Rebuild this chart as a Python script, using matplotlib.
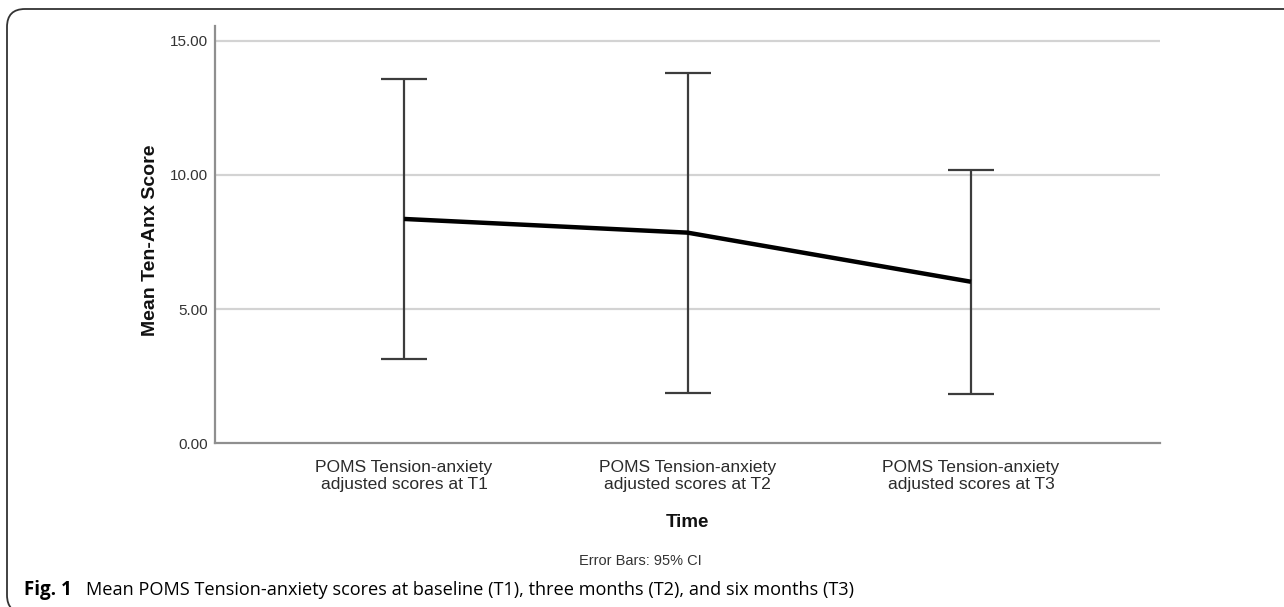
import matplotlib
matplotlib.use("Agg")
import matplotlib.pyplot as plt
from matplotlib.patches import FancyBboxPatch
from matplotlib.ticker import FormatStrFormatter
import numpy as np

# --- data ---
time_labels = ["POMS Tension-anxiety\nadjusted scores at T1",
               "POMS Tension-anxiety\nadjusted scores at T2",
               "POMS Tension-anxiety\nadjusted scores at T3"]
mean_scores = [8.36, 7.85, 6.02]
ci_upper = [13.59, 13.78, 10.17]
ci_lower = [3.13, 1.87, 1.83]
y_ticks = [0, 5, 10, 15]

W, H = 1284, 607
fig = plt.figure(figsize=(W / 100, H / 100), dpi=100, facecolor="white")
ax = fig.add_axes([215 / W, 1 - 443.3 / H, 945 / W, 417.3 / H])

x = np.arange(len(mean_scores))
means = np.array(mean_scores)
yerr = np.vstack([means - np.array(ci_lower), np.array(ci_upper) - means])

# grid lines
for t in y_ticks[1:]:
    ax.axhline(t, color="#d3d3d3", lw=1.6, zorder=0)

# error bars (95% CI)
ax.errorbar(x, means, yerr=yerr, fmt="none", ecolor="#3c3c3c", elinewidth=1.6,
            capsize=16.5, capthick=1.6, zorder=2)
# mean line
ax.plot(x, means, color="black", lw=3.2, solid_capstyle="butt", zorder=3)

ax.set_xlim(-0.667, 2.667)
ax.set_ylim(0, 15.55)
ax.set_yticks(y_ticks)
ax.yaxis.set_major_formatter(FormatStrFormatter("%.2f"))
ax.set_xticks(x)
ax.set_xticklabels(time_labels, fontsize=12.6, color="#2b2b2b",
                   family="Liberation Sans", linespacing=1.16)
for lab in ax.get_yticklabels():
    lab.set_fontsize(11)
    lab.set_color("#333333")
    lab.set_family("Liberation Sans")
ax.tick_params(axis="both", length=0)
ax.tick_params(axis="y", pad=5)
ax.tick_params(axis="x", pad=12)

for side in ("top", "right"):
    ax.spines[side].set_visible(False)
for side in ("left", "bottom"):
    ax.spines[side].set_color("#8f8f8f")
    ax.spines[side].set_linewidth(1.6)

ax.set_ylabel("Mean Ten-Anx Score", fontsize=14, fontweight="bold",
              family="Liberation Sans", color="#111111")
ax.yaxis.label.set_va("center")
ax.yaxis.set_label_coords(-0.068, 0.487)
ax.set_xlabel("Time", fontsize=13.5, fontweight="bold",
              family="Liberation Sans", color="#111111")
ax.xaxis.label.set_va("center")
ax.xaxis.set_label_coords(0.5, -0.1886)

fig.text(640 / W, 1 - 561 / H, "Error Bars: 95% CI", ha="center", va="center",
         fontsize=10.5, family="Liberation Sans", color="#333333")

# caption
fig.text(24 / W, 1 - 590 / H, "Fig. 1", ha="left", va="center",
         fontsize=13.5, fontweight="bold", family="Open Sans", color="black")
fig.text(86 / W, 1 - 590 / H,
         "Mean POMS Tension-anxiety scores at baseline (T1), three months (T2), and six months (T3)",
         ha="left", va="center", fontsize=13.1, family="Open Sans", color="black")

# rounded frame, cut by the right and bottom edges
frame = FancyBboxPatch((7 / W, -6 / H), 1320 / W, (598 + 6) / H,
                       boxstyle="round,pad=0,rounding_size=0.014",
                       transform=fig.transFigure, fill=False,
                       edgecolor="#333333", lw=1.3, mutation_aspect=W / H)
fig.patches.append(frame)

fig.savefig("out.png", dpi=100, facecolor="white")
